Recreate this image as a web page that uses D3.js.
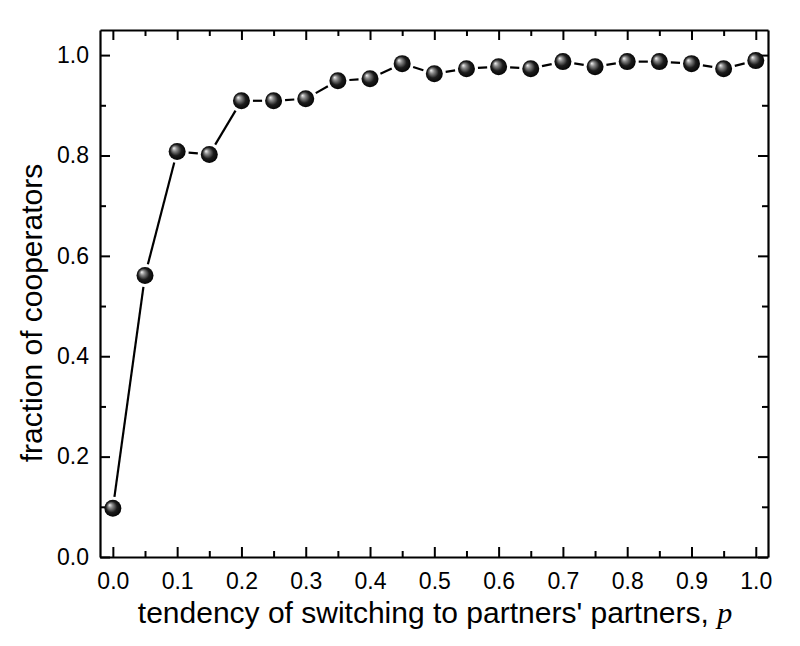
<!DOCTYPE html>
<html>
<head>
<meta charset="utf-8">
<script src="https://cdn.jsdelivr.net/npm/d3@7"></script>
<style>
  body { margin: 0; background: #fff; }
  svg { display: block; }
</style>
</head>
<body>
<svg id="chart"></svg>
<script>
const pValues = [0.0, 0.05, 0.1, 0.15, 0.2, 0.25, 0.3, 0.35, 0.4, 0.45, 0.5,
                 0.55, 0.6, 0.65, 0.7, 0.75, 0.8, 0.85, 0.9, 0.95, 1.0];
const fracCoop = [0.097, 0.561, 0.808, 0.802, 0.909, 0.909, 0.913, 0.949, 0.953, 0.983, 0.963,
                  0.973, 0.977, 0.973, 0.987, 0.977, 0.987, 0.987, 0.983, 0.973, 0.989];
const xTicks = [0.0, 0.1, 0.2, 0.3, 0.4, 0.5, 0.6, 0.7, 0.8, 0.9, 1.0];
const yTicks = [0.0, 0.2, 0.4, 0.6, 0.8, 1.0];

const width = 800;
const height = 646;
const marginTop = 30;
const marginRight = 32;
const marginBottom = 89;
const marginLeft = 100;
const sans = '"Liberation Sans", Arial, sans-serif';

const data = pValues.map((p, i) => ({p: p, f: fracCoop[i]}));

const x = d3.scaleLinear()
    .domain([-0.02, 1.019])
    .range([marginLeft, width - marginRight]);

const y = d3.scaleLinear()
    .domain([0, 1.05])
    .range([height - marginBottom, marginTop]);

const svg = d3.select('#chart')
    .attr('width', width)
    .attr('height', height)
    .attr('font-family', sans);

const defs = svg.append('defs');
const grad = defs.append('radialGradient')
    .attr('id', 'ball')
    .attr('cx', '0.5').attr('cy', '0.5').attr('r', '0.55')
    .attr('fx', '0.3').attr('fy', '0.3');
grad.append('stop').attr('offset', '0%').attr('stop-color', '#f4f4f4');
grad.append('stop').attr('offset', '25%').attr('stop-color', '#8a8a8a');
grad.append('stop').attr('offset', '60%').attr('stop-color', '#1c1c1c');
grad.append('stop').attr('offset', '100%').attr('stop-color', '#000');

const xMinor = d3.range(0.05, 1.0, 0.1);
const yMinor = d3.range(0.1, 1.05, 0.2);

function styleAxis(g) {
    g.attr('font-family', sans).attr('font-size', 23);
    g.select('.domain').attr('stroke-width', 2.2);
    g.selectAll('.tick line').attr('stroke-width', 2);
    g.selectAll('.tick text').attr('fill', '#000');
}

function minor(g) {
    g.select('.domain').remove();
    g.selectAll('.tick line').attr('stroke-width', 2);
}

// bottom axis
svg.append('g')
    .attr('transform', `translate(0,${height - marginBottom})`)
    .call(d3.axisBottom(x).tickValues(xTicks).tickFormat(d3.format('.1f'))
        .tickSizeInner(-10).tickSizeOuter(0).tickPadding(16))
    .call(styleAxis);
svg.append('g')
    .attr('transform', `translate(0,${height - marginBottom})`)
    .call(d3.axisBottom(x).tickValues(xMinor).tickFormat('').tickSizeInner(-6).tickSizeOuter(0))
    .call(minor);

// top axis
svg.append('g')
    .attr('transform', `translate(0,${marginTop})`)
    .call(d3.axisTop(x).tickValues(xTicks).tickFormat('').tickSizeInner(-10).tickSizeOuter(0))
    .call(styleAxis);
svg.append('g')
    .attr('transform', `translate(0,${marginTop})`)
    .call(d3.axisTop(x).tickValues(xMinor).tickFormat('').tickSizeInner(-6).tickSizeOuter(0))
    .call(minor);

// left axis
svg.append('g')
    .attr('transform', `translate(${marginLeft},0)`)
    .call(d3.axisLeft(y).tickValues(yTicks).tickFormat(d3.format('.1f'))
        .tickSizeInner(-10).tickSizeOuter(0).tickPadding(11))
    .call(styleAxis);
svg.append('g')
    .attr('transform', `translate(${marginLeft},0)`)
    .call(d3.axisLeft(y).tickValues(yMinor).tickFormat('').tickSizeInner(-6).tickSizeOuter(0))
    .call(minor);

// right axis
svg.append('g')
    .attr('transform', `translate(${width - marginRight},0)`)
    .call(d3.axisRight(y).tickValues(yTicks).tickFormat('').tickSizeInner(-10).tickSizeOuter(0))
    .call(styleAxis);
svg.append('g')
    .attr('transform', `translate(${width - marginRight},0)`)
    .call(d3.axisRight(y).tickValues(yMinor).tickFormat('').tickSizeInner(-6).tickSizeOuter(0))
    .call(minor);

// connecting line, with small gaps round the symbols
const r = 8.5;
const gap = 3;
const segs = d3.pairs(data).map(([a, b]) => {
    const x1 = x(a.p), y1 = y(a.f), x2 = x(b.p), y2 = y(b.f);
    const len = Math.hypot(x2 - x1, y2 - y1);
    const ux = (x2 - x1) / len, uy = (y2 - y1) / len;
    const off = r + gap;
    return {x1: x1 + ux * off, y1: y1 + uy * off, x2: x2 - ux * off, y2: y2 - uy * off};
});

svg.append('g')
    .selectAll('line')
    .data(segs)
    .join('line')
    .attr('x1', d => d.x1).attr('y1', d => d.y1)
    .attr('x2', d => d.x2).attr('y2', d => d.y2)
    .attr('stroke', '#000')
    .attr('stroke-width', 2.2);

svg.append('g')
    .selectAll('circle')
    .data(data)
    .join('circle')
    .attr('cx', d => x(d.p))
    .attr('cy', d => y(d.f))
    .attr('r', r)
    .attr('fill', 'url(#ball)');

// axis titles
const xTitle = svg.append('text')
    .attr('x', 435)
    .attr('y', 623)
    .attr('text-anchor', 'middle')
    .attr('font-size', 30)
    .attr('fill', '#000');
xTitle.append('tspan').text("tendency of switching to partners' partners, ");
xTitle.append('tspan')
    .attr('font-family', '"Liberation Serif", "Times New Roman", serif')
    .attr('font-style', 'italic')
    .text('p');

svg.append('text')
    .attr('transform', 'translate(42,313) rotate(-90)')
    .attr('text-anchor', 'middle')
    .attr('font-size', 30)
    .attr('fill', '#000')
    .text('fraction of cooperators');
</script>
</body>
</html>
